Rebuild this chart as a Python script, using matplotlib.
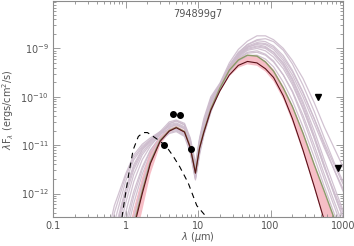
import numpy as np
import matplotlib
matplotlib.use("Agg")
import matplotlib.pyplot as plt
from matplotlib.ticker import LogLocator, NullFormatter

# wavelength grid (micron) shared by the model SEDs
wav = [0.5, 0.7, 1.0, 1.3, 1.7, 2.2, 3.0, 4.0, 5.0, 6.5, 7.8, 8.6, 9.2, 10.5, 12,
       15, 20, 27, 36, 48, 65, 85, 110, 150, 200, 280, 400, 550, 750, 1000]

# log10(lambda F_lambda) of the grey fitted models
grey_models = [
    [-13.8, -12.6, -11.75, -11.3, -11.05, -10.9, -10.72, -10.52, -10.48, -10.55, -10.85, -11.15, -11.38, -10.85, -10.45,
     -10.0, -9.72, -9.3, -9.02, -8.85, -8.74, -8.74, -8.82, -9.0, -9.25, -9.62, -10.12, -10.62, -11.05, -11.45],
    [-14.5, -13.2, -12.2, -11.6, -11.2, -10.98, -10.78, -10.56, -10.5, -10.58, -10.9, -11.2, -11.45, -10.9, -10.52,
     -10.05, -9.75, -9.35, -9.08, -8.92, -8.84, -8.86, -8.95, -9.15, -9.45, -9.9, -10.45, -11.0, -11.5, -11.95],
    [-13.2, -12.25, -11.6, -11.2, -10.98, -10.85, -10.72, -10.62, -10.58, -10.66, -10.98, -11.28, -11.52, -10.98, -10.6,
     -10.12, -9.78, -9.4, -9.15, -9.0, -8.95, -8.98, -9.08, -9.3, -9.62, -10.1, -10.7, -11.3, -11.85, -12.35],
    [-15.0, -13.6, -12.6, -11.95, -11.45, -11.1, -10.84, -10.7, -10.66, -10.76, -11.1, -11.42, -11.66, -11.12, -10.75,
     -10.25, -9.8, -9.42, -9.18, -9.04, -9.0, -9.05, -9.18, -9.42, -9.75, -10.25, -10.85, -11.45, -12.0, -12.5],
    [-14.2, -12.9, -11.95, -11.45, -11.1, -10.92, -10.76, -10.66, -10.62, -10.72, -11.05, -11.4, -11.65, -11.05, -10.66,
     -10.18, -9.8, -9.4, -9.14, -8.98, -8.9, -8.92, -9.02, -9.25, -9.55, -10.0, -10.55, -11.05, -11.5, -11.9],
    [-15.5, -14.0, -12.9, -12.2, -11.6, -11.18, -10.88, -10.74, -10.7, -10.8, -11.12, -11.45, -11.7, -11.15, -10.78,
     -10.3, -9.8, -9.42, -9.2, -9.08, -9.05, -9.12, -9.26, -9.55, -9.9, -10.45, -11.1, -11.7, -12.25, -12.75],
    [-14.0, -12.8, -11.9, -11.4, -11.08, -10.9, -10.74, -10.58, -10.54, -10.62, -10.95, -11.25, -11.5, -10.95, -10.55,
     -10.08, -9.76, -9.38, -9.12, -8.97, -8.92, -8.96, -9.08, -9.32, -9.65, -10.15, -10.8, -11.4, -12.0, -12.5],
    [-16.0, -14.6, -13.3, -12.5, -11.8, -11.3, -10.92, -10.76, -10.72, -10.82, -11.16, -11.5, -11.72, -11.2, -10.8,
     -10.32, -9.84, -9.48, -9.26, -9.15, -9.14, -9.22, -9.38, -9.7, -10.08, -10.62, -11.25, -11.85, -12.4, -12.9],
    [-14.8, -13.4, -12.4, -11.75, -11.3, -11.02, -10.78, -10.55, -10.5, -10.58, -10.9, -11.2, -11.44, -10.88, -10.5,
     -10.04, -9.74, -9.36, -9.1, -8.95, -8.88, -8.9, -8.98, -9.2, -9.48, -9.92, -10.45, -10.95, -11.4, -11.8],
    [-13.5, -12.4, -11.65, -11.25, -11.02, -10.88, -10.76, -10.7, -10.68, -10.78, -11.1, -11.45, -11.68, -11.12, -10.74,
     -10.26, -9.83, -9.45, -9.22, -9.1, -9.08, -9.14, -9.28, -9.55, -9.88, -10.38, -11.0, -11.6, -12.15, -12.65],
    [-15.2, -13.8, -12.75, -12.05, -11.5, -11.12, -10.82, -10.64, -10.58, -10.66, -10.98, -11.28, -11.52, -10.98, -10.6,
     -10.14, -9.78, -9.4, -9.16, -9.02, -8.97, -9.0, -9.12, -9.36, -9.7, -10.22, -10.85, -11.45, -11.95, -12.4],
    [-14.4, -13.0, -12.05, -11.5, -11.15, -10.95, -10.76, -10.6, -10.56, -10.64, -10.96, -11.3, -11.55, -10.96, -10.58,
     -10.1, -9.78, -9.38, -9.1, -8.92, -8.82, -8.8, -8.86, -9.04, -9.32, -9.76, -10.3, -10.85, -11.35, -11.75],
]

# range of the good fits (pink band)
band_hi = [-15.0, -14.0, -13.1, -12.35, -11.7, -11.15, -10.84, -10.68, -10.61, -10.7, -11.02, -11.33, -11.55, -11.03, -10.7,
           -10.22, -9.8, -9.43, -9.22, -9.14, -9.16, -9.27, -9.45, -9.8, -10.2, -10.75, -11.4, -12.0, -12.5, -13.0]
band_lo = [-16.0, -15.0, -14.0, -13.1, -12.35, -11.6, -11.0, -10.74, -10.66, -10.76, -11.08, -11.4, -11.62, -11.1, -10.76,
           -10.3, -9.9, -9.58, -9.4, -9.33, -9.36, -9.48, -9.68, -10.05, -10.52, -11.15, -11.9, -12.6, -13.3, -13.9]

green_fit = [-15.5, -14.3, -13.4, -12.65, -11.95, -11.35, -10.9, -10.7, -10.63, -10.72, -11.04, -11.35, -11.57, -11.05, -10.72,
             -10.25, -9.82, -9.45, -9.24, -9.14, -9.16, -9.28, -9.47, -9.82, -10.2, -10.75, -11.4, -11.95, -12.5, -12.95]
best_fit = [-15.6, -14.4, -13.5, -12.7, -12.0, -11.38, -10.92, -10.71, -10.64, -10.73, -11.05, -11.36, -11.58, -11.06, -10.74,
            -10.28, -9.88, -9.55, -9.35, -9.27, -9.3, -9.42, -9.6, -9.98, -10.45, -11.1, -11.85, -12.55, -13.2, -13.8]

# stellar photosphere
phot_wav = [0.85, 0.9, 1.0, 1.1, 1.27, 1.5, 1.75, 2.0, 2.3, 3.0, 3.7, 4.5, 5.6, 7.3, 9.6, 13.3, 15]
phot_flux = [-12.7, -12.45, -12.0, -11.62, -11.1, -10.82, -10.74, -10.74, -10.8, -10.92, -11.04, -11.22, -11.45, -11.78,
             -12.25, -12.5, -12.65]

# photometry
obs_wav = [3.4, 4.5, 5.7, 7.9]
obs_flux = [1.0e-11, 4.3e-11, 4.1e-11, 8.3e-12]
lim_wav = [450, 850]
lim_flux = [1.0e-10, 3.3e-12]

wav = np.array(wav)
fig = plt.figure(figsize=(3.54, 2.46), dpi=100)
ax = fig.add_axes([0.150, 0.118, 0.819, 0.876])

for m in grey_models:
    ax.plot(wav, 10 ** np.array(m), color="#cdbccd", lw=0.9, alpha=0.9)

ax.fill_between(wav, 10 ** np.array(band_lo), 10 ** np.array(band_hi),
                color="#f4a8b4", alpha=0.75, lw=0)
ax.plot(wav, 10 ** np.array(band_hi), color="#f2b6c0", lw=0.6)
ax.plot(wav, 10 ** np.array(green_fit), color="#8a9a6a", lw=1.0)
ax.plot(wav, 10 ** np.array(best_fit), color="#5a1018", lw=0.8)

ax.plot(phot_wav, 10 ** np.array(phot_flux), color="black", lw=0.8, ls=(0, (5, 4)))
ax.plot(obs_wav, obs_flux, "o", color="black", ms=4)
ax.plot(lim_wav, lim_flux, "v", color="black", ms=4.5)

ax.set_xscale("log")
ax.set_yscale("log")
ax.set_xlim(0.1, 1000)
ax.set_ylim(10 ** -12.485, 10 ** -8.03)

axis_col = "#8c8c8c"
txt_col = "#555555"
for s in ax.spines.values():
    s.set_color(axis_col)
    s.set_linewidth(0.8)
ax.xaxis.set_minor_locator(LogLocator(base=10, subs=np.arange(2, 10), numticks=20))
ax.yaxis.set_minor_locator(LogLocator(base=10, subs=np.arange(2, 10), numticks=20))
ax.yaxis.set_minor_formatter(NullFormatter())
ax.xaxis.set_minor_formatter(NullFormatter())
ax.set_xticks([0.1, 1, 10, 100, 1000])
ax.set_xticklabels(["0.1", "1", "10", "100", "1000"])
ax.set_yticks([1e-12, 1e-11, 1e-10, 1e-9])
ax.set_yticklabels([r"$10^{-12}$", r"$10^{-11}$", r"$10^{-10}$", r"$10^{-9}$"])
ax.tick_params(which="both", direction="in", top=True, right=True, color=axis_col,
               labelcolor=txt_col, labelsize=7, width=0.6)
ax.tick_params(which="major", length=5, pad=3)
ax.tick_params(which="minor", length=2.5)

ax.set_xlabel(r"$\lambda$ ($\mu$m)", color=txt_col, fontsize=7)
ax.xaxis.set_label_coords(0.5, -0.062)
ax.set_ylabel(r"$\lambda$F$_\lambda$ (ergs/cm$^2$/s)", color=txt_col, fontsize=7)
ax.yaxis.set_label_coords(-0.128, 0.5)
ax.text(0.5, 0.94, "794899g7", transform=ax.transAxes, ha="center", va="center",
        color=txt_col, fontsize=7)

fig.savefig("out.png", dpi=100)
